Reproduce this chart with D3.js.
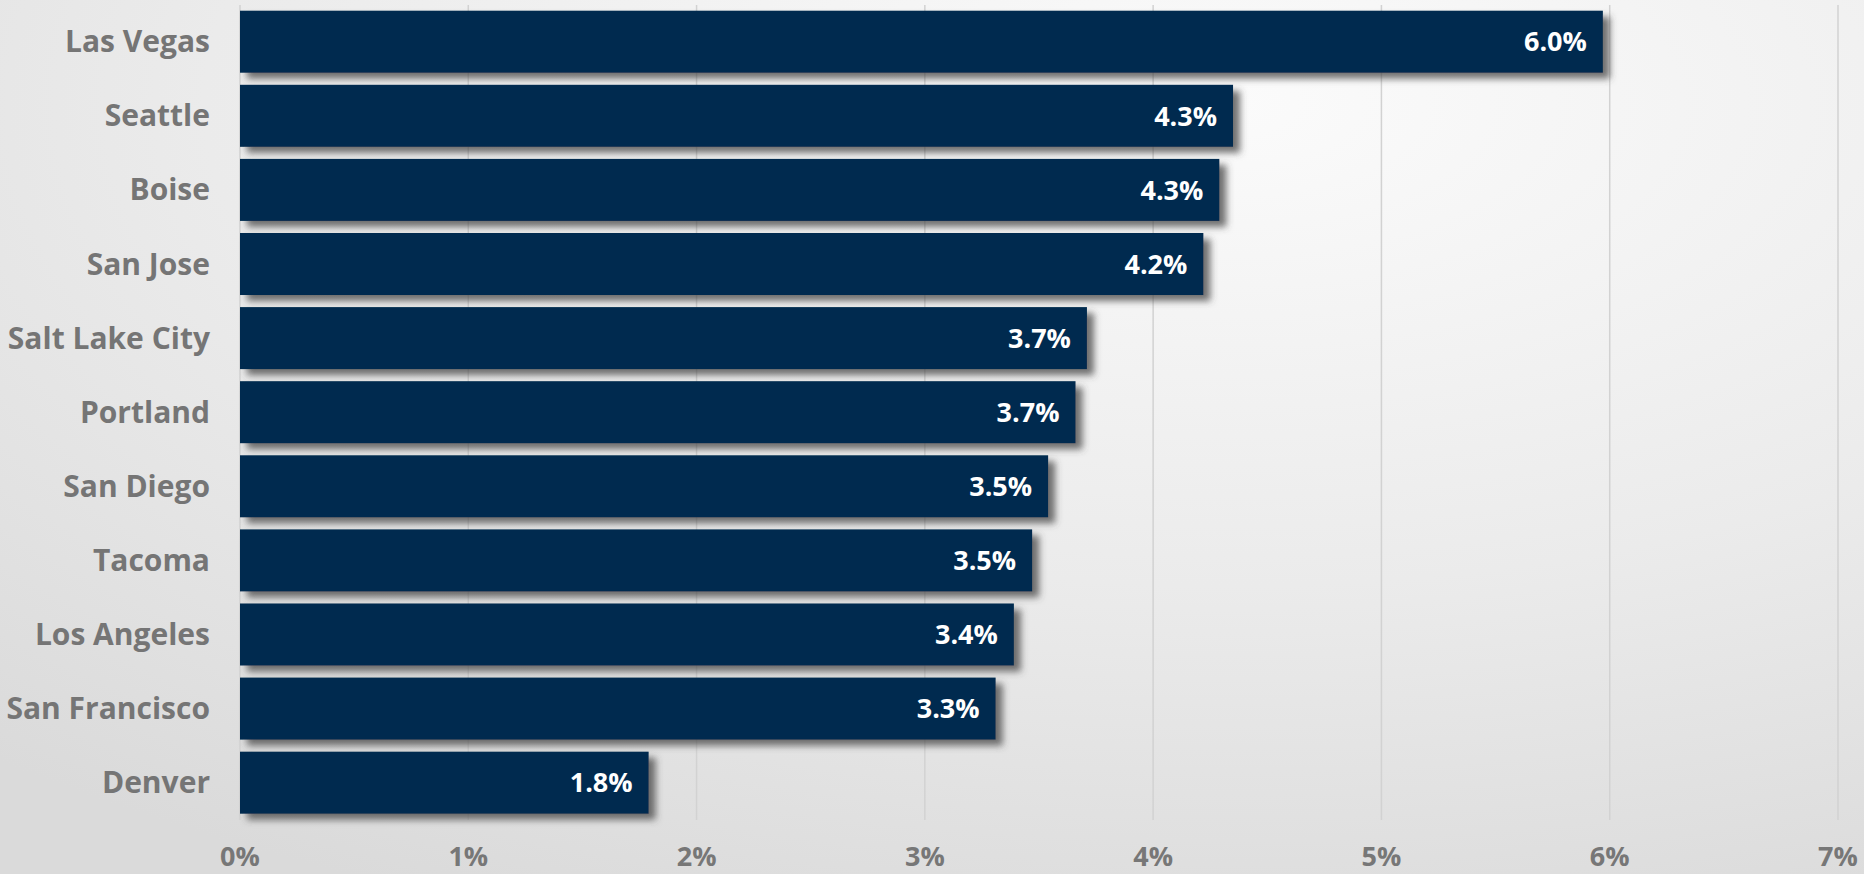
<!DOCTYPE html>
<html>
<head>
<meta charset="utf-8">
<script src="https://cdn.jsdelivr.net/npm/d3@7"></script>
<style>
  html, body { margin: 0; padding: 0; overflow: hidden; }
  svg { display: block; }
</style>
</head>
<body>
<div id="chart"></div>
<script>
const cities = ['Las Vegas', 'Seattle', 'Boise', 'San Jose', 'Salt Lake City', 'Portland',
  'San Diego', 'Tacoma', 'Los Angeles', 'San Francisco', 'Denver'];
const values = [5.97, 4.35, 4.29, 4.22, 3.71, 3.66, 3.54, 3.47, 3.39, 3.31, 1.79];
const ticks = [0, 1, 2, 3, 4, 5, 6, 7];

const width = 1864;
const height = 874;

const svg = d3.select('#chart')
  .append('svg')
  .attr('width', width)
  .attr('height', height);

const defs = svg.append('defs');

// soft grey background, lighter toward the upper right
const bg = defs.append('radialGradient')
  .attr('id', 'bg')
  .attr('cx', '0.66').attr('cy', '0.12').attr('r', '1')
  .attr('gradientUnits', 'objectBoundingBox');
bg.append('stop').attr('offset', '0').attr('stop-color', '#fbfbfb');
bg.append('stop').attr('offset', '0.55').attr('stop-color', '#ebebeb');
bg.append('stop').attr('offset', '1').attr('stop-color', '#dadada');

const shadow = defs.append('filter')
  .attr('id', 'shadow')
  .attr('x', '-5%').attr('y', '-20%')
  .attr('width', '115%').attr('height', '160%');
shadow.append('feDropShadow')
  .attr('dx', 7).attr('dy', 6)
  .attr('stdDeviation', 3.5)
  .attr('flood-color', '#444444')
  .attr('flood-opacity', 0.75);

svg.append('rect')
  .attr('width', width)
  .attr('height', height)
  .attr('fill', 'url(#bg)');

const x = d3.scaleLinear()
  .domain([0, 7])
  .range([240, 1838]);

const y = d3.scaleBand()
  .domain(cities)
  .range([10.7, 813.7])
  .paddingInner(0.163)
  .paddingOuter(0);

// vertical gridlines
svg.append('g')
  .selectAll('line')
  .data(ticks)
  .enter().append('line')
  .attr('x1', d => x(d))
  .attr('x2', d => x(d))
  .attr('y1', 5)
  .attr('y2', 820)
  .attr('stroke', '#d2d2d2')
  .attr('stroke-width', 1.5);

// x tick labels
svg.append('g')
  .selectAll('text')
  .data(ticks)
  .enter().append('text')
  .attr('x', d => x(d))
  .attr('y', 866)
  .attr('text-anchor', 'middle')
  .attr('font-family', 'Open Sans, sans-serif')
  .attr('font-weight', 700)
  .attr('font-size', 27)
  .attr('fill', '#777777')
  .text(d => d + '%');

const rows = cities.map((c, i) => ({ city: c, value: values[i] }));

svg.append('g')
  .selectAll('rect')
  .data(rows)
  .enter().append('rect')
  .attr('x', x(0))
  .attr('y', d => y(d.city))
  .attr('width', d => x(d.value) - x(0))
  .attr('height', y.bandwidth())
  .attr('fill', '#002b4f')
  .attr('filter', 'url(#shadow)');

// city names
svg.append('g')
  .selectAll('text')
  .data(rows)
  .enter().append('text')
  .attr('x', 210)
  .attr('y', d => y(d.city) + y.bandwidth() / 2)
  .attr('dy', '0.35em')
  .attr('text-anchor', 'end')
  .attr('font-family', 'Open Sans, sans-serif')
  .attr('font-weight', 700)
  .attr('font-size', 30)
  .attr('fill', '#757575')
  .text(d => d.city);

// value labels inside bars
svg.append('g')
  .selectAll('text')
  .data(rows)
  .enter().append('text')
  .attr('x', d => x(d.value) - 16)
  .attr('y', d => y(d.city) + y.bandwidth() / 2)
  .attr('dy', '0.36em')
  .attr('text-anchor', 'end')
  .attr('font-family', 'Open Sans, sans-serif')
  .attr('font-weight', 700)
  .attr('font-size', 27)
  .attr('fill', '#ffffff')
  .text(d => d3.format('.1f')(d.value) + '%');
</script>
</body>
</html>
